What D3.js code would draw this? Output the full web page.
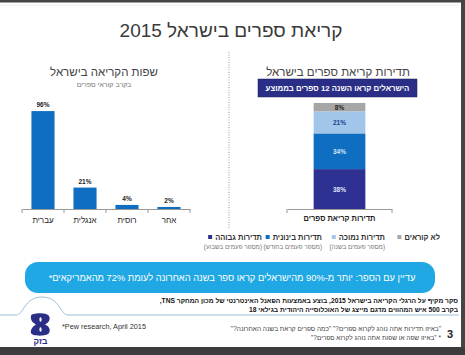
<!DOCTYPE html>
<html><head><meta charset="utf-8">
<script src="https://cdn.jsdelivr.net/npm/d3@7"></script>
<style>
html,body{margin:0;padding:0;background:#fff;}
svg{display:block;font-family:"Liberation Sans",Arial,"DejaVu Sans",sans-serif;}
</style></head>
<body>
<svg id="c" width="465" height="355"></svg>
<script>
// ---- data ----
const langCategories = ["עברית", "אנגלית", "רוסית", "אחר"];
const langValues = [96, 21, 4, 2];
const langLabels = ["96%", "21%", "4%", "2%"];

const freqCategory = ["תדירות קריאת ספרים"];
const freqSeries = ["תדירות גבוהה", "תדירות בינונית", "תדירות נמוכה", "לא קוראים"];
const freqSubLabels = ["(מספר פעמים בשבוע)", "(מספר פעמים בחודש)", "(מספר פעמים בשנה)", ""];
const freqValues = [38, 34, 21, 8];
const freqLabels = ["38%", "34%", "21%", "8%"];

const svg = d3.select("#c");
const NAVY = "#2e3192", MID = "#0f6ec2", LIGHT = "#a2c6ea", GRAY = "#a6a6a6";
const freqColors = [NAVY, MID, LIGHT, GRAY];
const freqTextColors = ["#dfe6f7", "#d6e6f7", "#1f3f8f", "#222"];

function rtl(sel){ return sel.attr("direction","rtl").style("unicode-bidi","embed"); }

// frame
svg.append("rect").attr("x",0).attr("y",0).attr("width",465).attr("height",2.5).attr("fill","#454545");
svg.append("rect").attr("x",461).attr("y",0).attr("width",4).attr("height",355).attr("fill","#454545");
svg.append("rect").attr("x",0).attr("y",347).attr("width",465).attr("height",8).attr("fill","#3c3c3c");
svg.append("line").attr("x1",0).attr("x2",459).attr("y1",5).attr("y2",5).attr("stroke","#eee");

// title
rtl(svg.append("text")).attr("x",231).attr("y",37).attr("text-anchor","middle")
  .attr("font-size",19).attr("fill","#3a3a3a").text("קריאת ספרים בישראל 2015");

// divider
svg.append("line").attr("x1",229).attr("x2",229).attr("y1",52).attr("y2",228)
  .attr("stroke","#9a9a9a").attr("stroke-dasharray","1,1.5");

// ---- left chart ----
rtl(svg.append("text")).attr("x",104).attr("y",76).attr("text-anchor","middle")
  .attr("font-size",11.5).attr("fill","#444").text("שפות הקריאה בישראל");
rtl(svg.append("text")).attr("x",104).attr("y",87).attr("text-anchor","middle")
  .attr("font-size",7).attr("fill","#777").text("בקרב קוראי ספרים");

const xL = d3.scaleBand().domain(langCategories).range([22,190]).paddingInner(0.45).paddingOuter(0.225);
const yL = d3.scaleLinear().domain([0,100]).range([209,107]);
const gL = svg.append("g");
gL.selectAll("rect.bar").data(langValues).join("rect")
  .attr("x",(d,i)=>xL(langCategories[i])).attr("width",xL.bandwidth())
  .attr("y",d=>yL(d)).attr("height",d=>yL(0)-yL(d)).attr("fill",MID);
gL.selectAll("text.v").data(langValues).join("text")
  .attr("x",(d,i)=>xL(langCategories[i])+xL.bandwidth()/2).attr("y",d=>yL(d)-4)
  .attr("text-anchor","middle").attr("font-size",6.5).attr("font-weight","bold").attr("fill","#222")
  .text((d,i)=>langLabels[i]);
const axL = svg.append("g").attr("transform","translate(0,209)")
  .call(d3.axisBottom(xL).tickSize(0).tickPadding(8));
axL.select(".domain").attr("stroke","#999");
axL.selectAll(".tick text").attr("font-size",8).attr("fill","#222").attr("font-family","inherit")
  .attr("direction","rtl");
const stepL = xL.step();
svg.append("g").selectAll("line").data(d3.range(langCategories.length+1)).join("line")
  .attr("x1",i=>22+i*stepL).attr("x2",i=>22+i*stepL).attr("y1",209).attr("y2",213).attr("stroke","#999");

// ---- right chart ----
rtl(svg.append("text")).attr("x",338).attr("y",76).attr("text-anchor","middle")
  .attr("font-size",11.5).attr("fill","#444").text("תדירות קריאת ספרים בישראל");
svg.append("rect").attr("x",258).attr("y",79).attr("width",159).attr("height",18).attr("fill","#2b2e86")
  .attr("stroke","#1b1d5c").attr("stroke-width",0.5);
rtl(svg.append("text")).attr("x",337.5).attr("y",91).attr("text-anchor","middle")
  .attr("font-size",7.8).attr("font-weight","bold").attr("fill","#fff").text("הישראלים קראו השנה 12 ספרים בממוצע");

const xR = d3.scaleBand().domain(freqCategory).range([287,392]).padding(0.34);
const yR = d3.scaleLinear().domain([0,100]).range([209,104]);
const stackData = [Object.fromEntries(freqSeries.map((s,i)=>[s,freqValues[i]]))];
const stacked = d3.stack().keys(freqSeries)(stackData);
const gR = svg.append("g");
gR.selectAll("rect").data(stacked).join("rect")
  .attr("x",xR(freqCategory[0])).attr("width",xR.bandwidth())
  .attr("y",d=>yR(d[0][1])).attr("height",d=>yR(d[0][0])-yR(d[0][1]))
  .attr("fill",(d,i)=>freqColors[i]);
gR.selectAll("text").data(stacked).join("text")
  .attr("x",xR(freqCategory[0])+xR.bandwidth()/2)
  .attr("y",d=>(yR(d[0][0])+yR(d[0][1]))/2+2.5)
  .attr("text-anchor","middle").attr("font-size",6.5).attr("font-weight","bold")
  .attr("fill",(d,i)=>freqTextColors[i]).text((d,i)=>freqLabels[i]);
const axR = svg.append("g").attr("transform","translate(0,209)")
  .call(d3.axisBottom(xR).tickSize(0).tickPadding(7));
axR.select(".domain").attr("stroke","#999");
axR.selectAll(".tick text").attr("font-size",7.5).attr("font-weight","bold").attr("fill","#222")
  .attr("font-family","inherit").attr("direction","rtl");
svg.append("g").selectAll("line").data(xR.range()).join("line")
  .attr("x1",d=>d).attr("x2",d=>d).attr("y1",209).attr("y2",213).attr("stroke","#999");

// legend (right to left)
const legendRight = [262, 322, 385, 440];
const lg = svg.append("g");
freqSeries.forEach((s,i)=>{
  const t = rtl(lg.append("text")).attr("x",legendRight[i]).attr("y",240).attr("text-anchor","start")
    .attr("font-size",7.5).attr("font-weight","bold").attr("fill","#333").text(s);
  const w = t.node().getComputedTextLength();
  lg.append("rect").attr("x",legendRight[i]-w-7).attr("y",235).attr("width",4).attr("height",4)
    .attr("fill",freqColors[i]);
  if(freqSubLabels[i]) rtl(lg.append("text")).attr("x",legendRight[i]).attr("y",249).attr("text-anchor","start")
    .attr("font-size",6.3).attr("fill","#777").text(freqSubLabels[i]);
});

// callout
svg.append("rect").attr("x",25).attr("y",262).attr("width",410).attr("height",31).attr("rx",13)
  .attr("fill","#1fa8e4");
rtl(svg.append("text")).attr("x",232).attr("y",281).attr("text-anchor","middle")
  .attr("font-size",9.3).attr("fill","#fff").text("עדיין עם הספר: יותר מ-90% מהישראלים קראו ספר בשנה האחרונה לעומת 72% מהאמריקאים*");

// footer
rtl(svg.append("text")).attr("x",458).attr("y",303).attr("text-anchor","start")
  .attr("font-size",6.7).attr("font-weight","bold").attr("fill","#111")
  .text("סקר מקיף על הרגלי הקריאה בישראל 2015, בוצע באמצעות הפאנל האינטרנטי של מכון המחקר TNS,");
rtl(svg.append("text")).attr("x",458).attr("y",312).attr("text-anchor","start")
  .attr("font-size",6.7).attr("font-weight","bold").attr("fill","#111")
  .text("בקרב 500 איש המהווים מדגם מייצג של האוכלוסייה היהודית בגילאי 18");

svg.append("path").attr("d","M0,315 L16,315 C24,315 24,297 42,297 C60,297 60,315 68,315 L459,315")
  .attr("fill","none").attr("stroke","#9fbfd4").attr("stroke-width",1);

// logo
svg.append("path").attr("d","M31,316 C31,313 46,312 49,316 C51,320 48,323 45,324.5 C49,326 51,330 49,333 C46,337 31,336 31,333 C30,330 33,326 36,324.5 C33,323 30,320 31,316 Z")
  .attr("fill","#2b2e86");
svg.append("ellipse").attr("cx",40.5).attr("cy",319.5).attr("rx",1.1).attr("ry",2.2).attr("fill","#fff");
svg.append("ellipse").attr("cx",40.5).attr("cy",329.5).attr("rx",1.1).attr("ry",2.2).attr("fill","#fff");
rtl(svg.append("text")).attr("x",40.5).attr("y",344).attr("text-anchor","middle")
  .attr("font-size",8.5).attr("font-weight","bold").attr("fill","#2b2e86").text("בזק");

svg.append("text").attr("x",62).attr("y",329).attr("font-size",7.3).attr("fill","#333")
  .text("*Pew research, April 2015");

rtl(svg.append("text")).attr("x",441).attr("y",331).attr("text-anchor","start")
  .attr("font-size",6.5).attr("fill","#444")
  .text("\"באיזו תדירות אתה נוהג לקרוא ספרים?\" \"כמה ספרים קראת בשנה האחרונה?\"");
rtl(svg.append("text")).attr("x",441).attr("y",340).attr("text-anchor","start")
  .attr("font-size",6.5).attr("fill","#444")
  .text("\u200F* \"באיזו שפה או שפות אתה נוהג לקרוא ספרים?\"");
svg.append("text").attr("x",447).attr("y",338).attr("font-size",11).attr("font-weight","bold")
  .attr("fill","#222").text("3");
</script>
</body></html>
